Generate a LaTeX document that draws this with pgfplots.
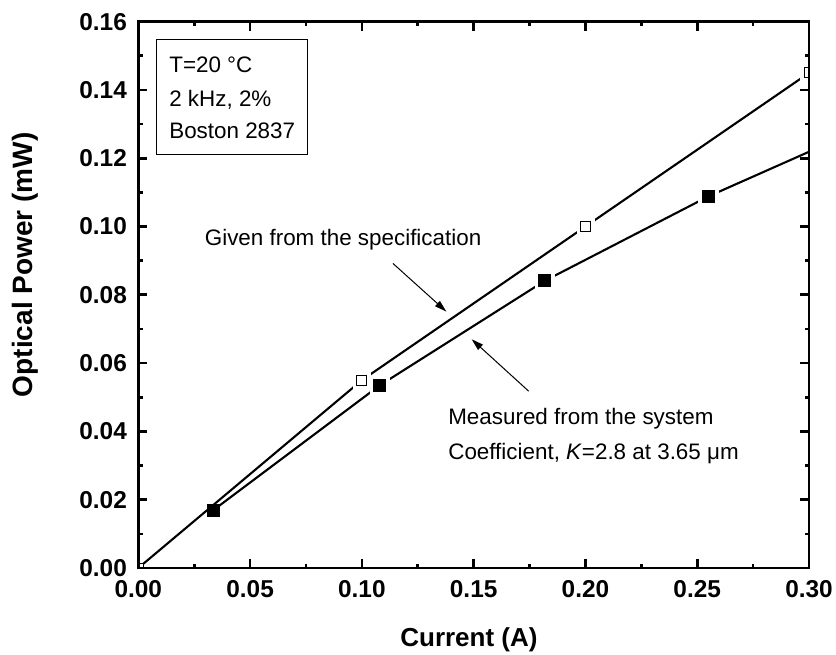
\documentclass[border=0pt]{standalone}
\usepackage{fontspec}
\setmainfont{Liberation Sans}
\usepackage{pgfplots}
\pgfplotsset{compat=1.18}
\usetikzlibrary{arrows.meta}

\begin{document}
\begin{tikzpicture}
\begin{axis}[
  name=ax,
  scale only axis,
  width=335.35pt, height=273.15pt,
  xmin=0, xmax=0.30, ymin=0, ymax=0.16,
  xtick={0,0.05,0.10,0.15,0.20,0.25,0.30},
  ytick={0,0.02,0.04,0.06,0.08,0.10,0.12,0.14,0.16},
  minor x tick num=1, minor y tick num=1,
  tick align=inside,
  xtick pos=both, ytick pos=both,
  scaled ticks=false,
  /pgf/number format/fixed,
  /pgf/number format/fixed zerofill,
  /pgf/number format/precision=2,
  /pgf/number format/assume math mode=true,
  ticklabel style={font=\fontsize{12.2}{14}\selectfont\bfseries},
  xticklabel style={yshift=-2.8pt},
  yticklabel style={xshift=-2.2pt},
  axis line style={line width=1.35pt},
  major tick style={line width=1.35pt, black},
  minor tick style={line width=1.35pt, black},
  major tick length=4.5pt, minor tick length=2.2pt,
  every axis x label/.style={at={([yshift=-36pt]axis description cs:0.493,0)}, anchor=center, font=\fontsize{13}{15}\selectfont\bfseries},
  every axis y label/.style={at={([xshift=-56.5pt]axis description cs:0,0.555)}, anchor=center, rotate=90, font=\fontsize{14}{16}\selectfont\bfseries},
  xlabel={Current (A)},
  ylabel={Optical Power (mW)},
  clip marker paths=true,
  axis on top,
]
% measured line
\addplot[line width=1.05pt, black, mark=none] coordinates {(0.0337,0.0170) (0.1078,0.0534) (0.1818,0.0841) (0.2549,0.1088) (0.30,0.1219)};
% gaps around measured markers
\addplot[only marks, white, mark=square*, mark size=4.8pt, mark options={draw=white, fill=white, line width=0.1pt}] coordinates {(0.1078,0.0534) (0.1818,0.0841) (0.2549,0.1088)};
% specification line
\addplot[line width=1.05pt, black, mark=none] coordinates {(0,0) (0.1,0.055) (0.2,0.1) (0.3,0.145)};
% gaps around specification markers
\addplot[only marks, white, mark=square*, mark size=4.3pt, mark options={draw=white, fill=white, line width=0.1pt}] coordinates {(0.1,0.055) (0.2,0.1) (0.3,0.145)};
% measured markers
\addplot[only marks, black, mark=square*, mark size=3pt, mark options={fill=black, draw=black, line width=0.4pt}] coordinates {(0.0337,0.0170) (0.1078,0.0534) (0.1818,0.0841) (0.2549,0.1088)};
% specification markers
\addplot[only marks, black, mark=square*, mark size=2.5pt, mark options={fill=white, draw=black, line width=0.5pt}] coordinates {(0,0) (0.1,0.055) (0.2,0.1) (0.3,0.145)};

\draw[line width=0.5pt] (axis cs:0.0080,0.1210) rectangle (axis cs:0.0758,0.1547);
\node[anchor=base west, inner sep=0, font=\fontsize{11.2}{13}\selectfont] at (axis cs:0.0137,0.1451) {T=20 °C};
\node[anchor=base west, inner sep=0, font=\fontsize{11.2}{13}\selectfont] at (axis cs:0.0137,0.1351) {2 kHz, 2\%};
\node[anchor=base west, inner sep=0, font=\fontsize{11.2}{13}\selectfont] at (axis cs:0.0137,0.1257) {Boston 2837};

\node[anchor=base west, inner sep=0, font=\fontsize{11.2}{13}\selectfont] at (axis cs:0.0296,0.0946) {Given from the specification};
\node[anchor=base west, inner sep=0, font=\fontsize{11.2}{13}\selectfont] at (axis cs:0.1385,0.0421) {Measured from the system};
\node[anchor=base west, inner sep=0, font=\fontsize{11.2}{13}\selectfont] at (axis cs:0.1385,0.0319) {Coefficient, \textit{K}=2.8 at 3.65 μm};

\draw[line width=0.5pt, -{Triangle[length=6pt,width=3.5pt]}] (axis cs:0.1139,0.0892) -- (axis cs:0.1378,0.0751);
\draw[line width=0.5pt, -{Triangle[length=6pt,width=3.5pt]}] (axis cs:0.1746,0.0518) -- (axis cs:0.1491,0.0670);
\end{axis}
\pgfresetboundingbox
\path ([shift={(-69.15pt,-43pt)}]ax.south west) rectangle ([shift={(13.5pt,10.85pt)}]ax.north east);
\end{tikzpicture}
\end{document}
